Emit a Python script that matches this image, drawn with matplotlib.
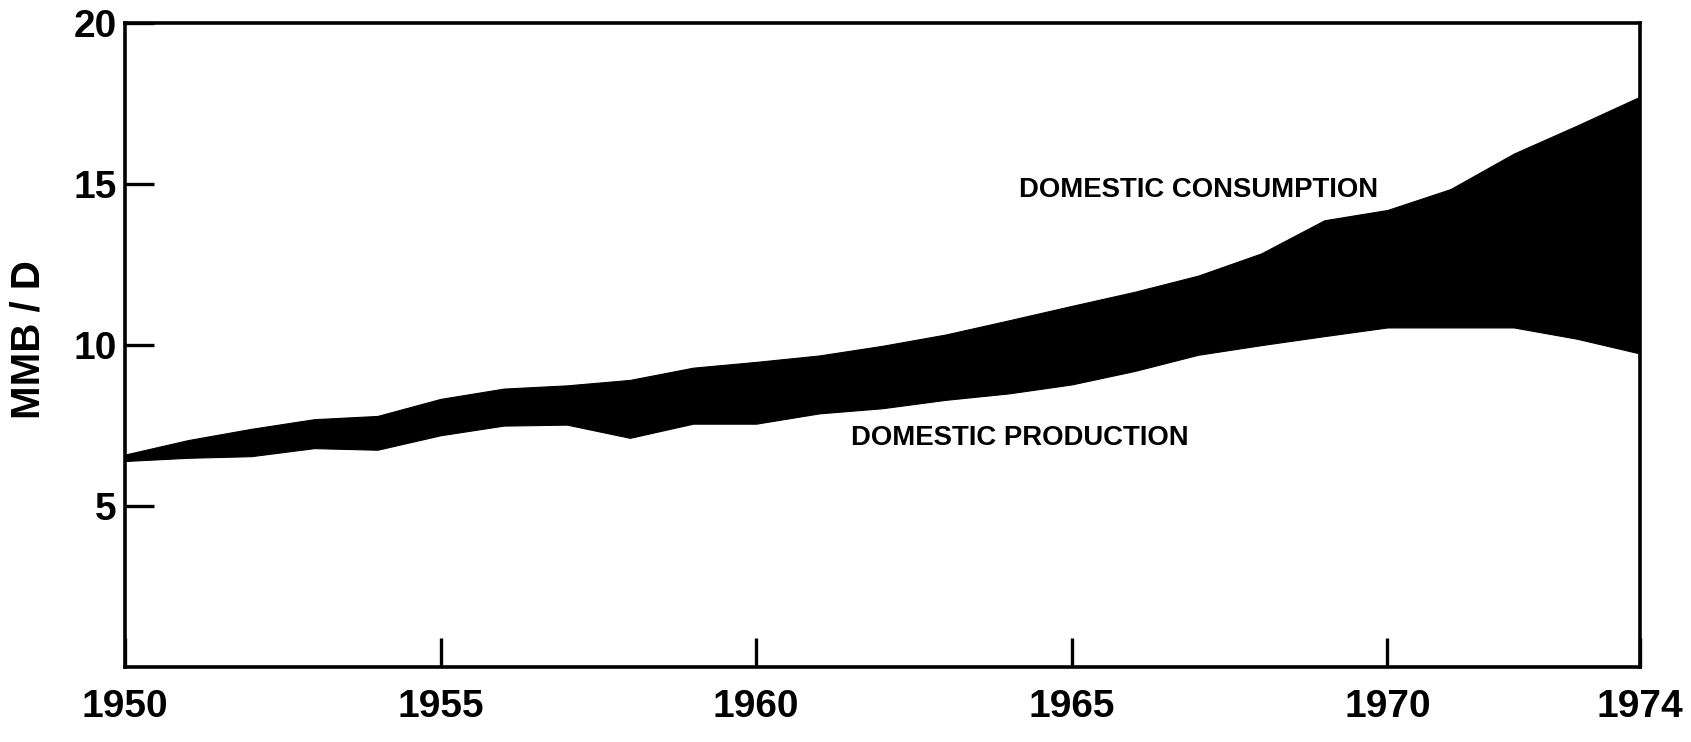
import matplotlib
matplotlib.use('Agg')

import matplotlib.pyplot as plt

# Oil, million barrels per day
years = [1950, 1951, 1952, 1953, 1954, 1955, 1956, 1957, 1958, 1959, 1960, 1961,
         1962, 1963, 1964, 1965, 1966, 1967, 1968, 1969, 1970, 1971, 1972, 1973, 1974]
consumption = [6.60, 7.05, 7.40, 7.70, 7.80, 8.33, 8.65, 8.75, 8.92, 9.30, 9.48, 9.68,
               9.98, 10.33, 10.77, 11.22, 11.66, 12.16, 12.85, 13.88, 14.20, 14.85,
               15.95, 16.82, 17.72]
production = [6.40, 6.50, 6.55, 6.80, 6.75, 7.20, 7.50, 7.53, 7.12, 7.56, 7.56, 7.88,
              8.04, 8.30, 8.50, 8.78, 9.20, 9.70, 10.00, 10.28, 10.55, 10.55, 10.55,
              10.20, 9.74]

xticks = [1950, 1955, 1960, 1965, 1970, 1974]
yticks = [5, 10, 15, 20]

plt.rcParams['font.family'] = ['Liberation Sans', 'DejaVu Sans']
plt.rcParams['font.weight'] = 'bold'

fig = plt.figure(figsize=(16.91, 7.42), dpi=100)
ax = fig.add_axes([0.0739, 0.1011, 0.8959, 0.8675])

ax.fill_between(years, production, consumption, color='black', linewidth=0.8)

ax.set_xlim(1950, 1974)
ax.set_ylim(0, 20)
ax.set_xticks(xticks)
ax.set_xticklabels([str(v) for v in xticks])
ax.set_yticks(yticks)
ax.set_yticklabels([str(v) for v in yticks])

ax.tick_params(axis='both', direction='in', length=21, width=2.4, labelsize=28)
ax.tick_params(axis='x', pad=16)
ax.tick_params(axis='y', pad=6)
for s in ax.spines.values():
    s.set_linewidth(2.6)

ax.text(1964.16, 14.81, 'DOMESTIC CONSUMPTION', fontsize=19.8, fontweight='bold',
        ha='left', va='center')
ax.text(1961.5, 7.12, 'DOMESTIC PRODUCTION', fontsize=19.8, fontweight='bold',
        ha='left', va='center')

fig.text(29 / 1691, 1 - 340 / 742, 'MMB / D', rotation=90, fontsize=29,
         fontweight='bold', ha='center', va='center')

fig.savefig('out.png', dpi=100)
